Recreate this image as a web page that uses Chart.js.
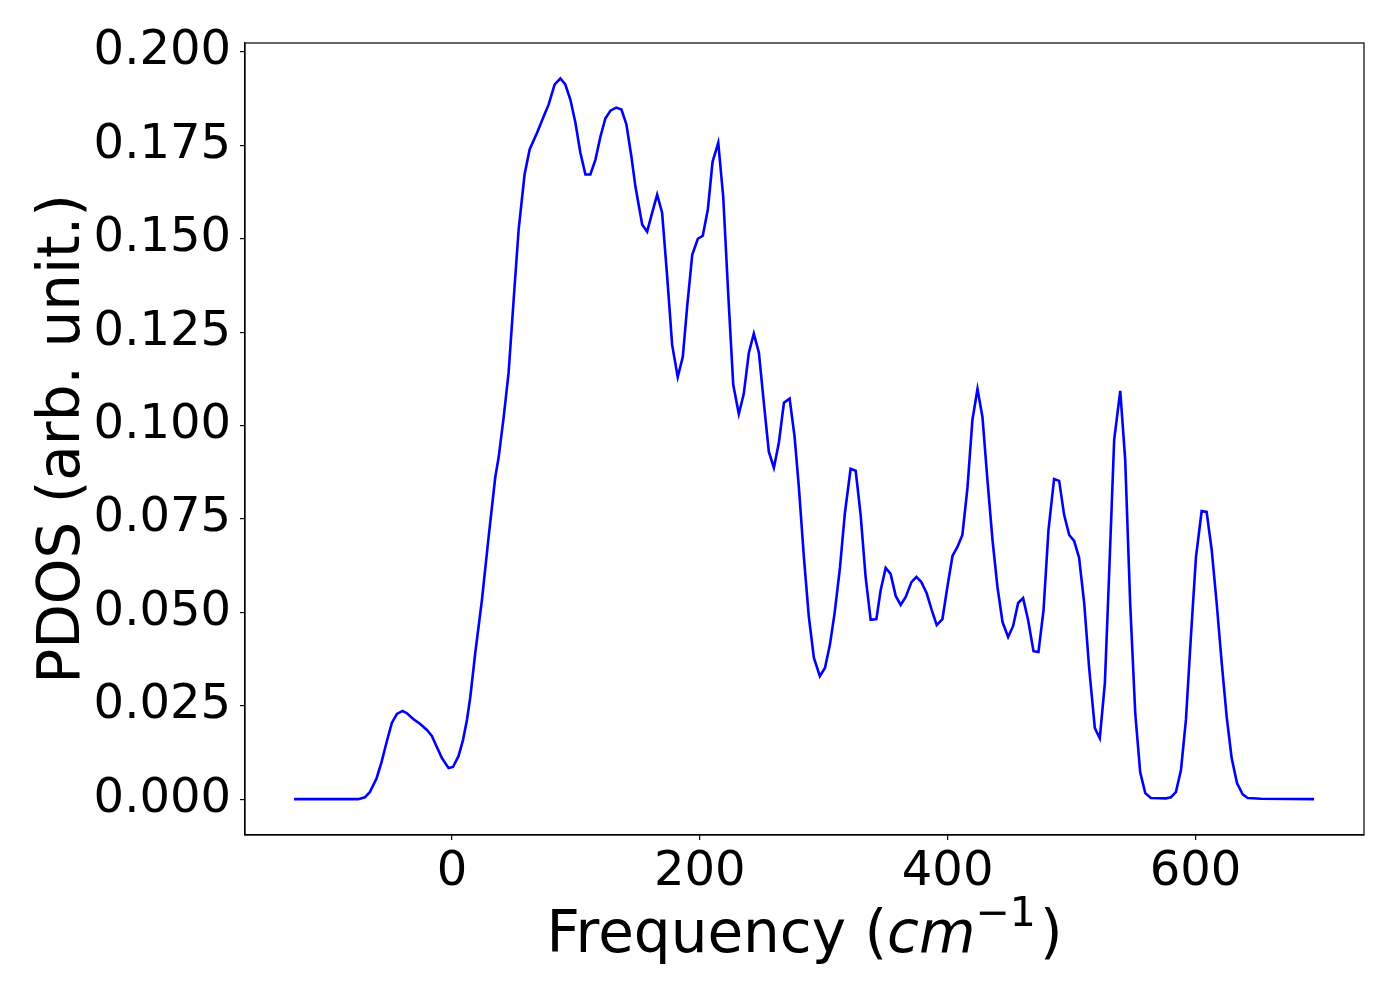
<!DOCTYPE html>
<html>
<head>
<meta charset="utf-8">
<script src="https://cdn.jsdelivr.net/npm/chart.js@4"></script>
<style>
  html, body { margin: 0; padding: 0; background: #fff; }
  canvas { display: block; }
</style>
</head>
<body>
<canvas id="myChart" width="1400" height="1000"></canvas>
<script>
// Frekuensi (cm^-1) dan nilai PDOS
const freq = [-127.4, -75.7, -70.2, -66.2, -60.8, -56.8, -52.7, -48.5, -44.4, -39.9, -36.3, -31.0, -25.6, -20.2, -16.2,
    -12.1, -8.1, -2.7, 0.8, 5.3, 8.9, 12.1, 14.8, 18.8, 24.2, 29.6, 35.0, 37.6, 41.7, 45.7, 49.8, 53.8, 58.6, 62.7,
    68.7, 74.0, 78.0, 82.9, 87.5, 91.5, 95.6, 99.6, 103.6, 107.7, 111.7, 115.8, 119.8, 123.8, 127.9, 132.5, 136.8,
    140.8, 144.8, 148.1, 153.5, 157.5, 161.6, 165.6, 169.6, 173.7, 177.7, 182.2, 186.3, 189.8, 193.9, 198.4, 202.4,
    206.5, 210.3, 214.9, 218.9, 222.9, 227.0, 231.5, 235.5, 239.6, 243.6, 247.7, 251.7, 255.7, 259.8, 263.8, 267.9,
    272.5, 276.5, 280.0, 284.0, 288.0, 292.1, 296.9, 301.0, 305.0, 308.8, 313.1, 317.1, 321.7, 325.8, 329.8, 333.8,
    337.9, 342.5, 346.0, 350.0, 354.0, 358.1, 362.1, 366.2, 370.8, 374.8, 378.8, 383.1, 387.2, 391.2, 395.8, 399.8,
    403.9, 407.9, 411.9, 416.0, 420.0, 424.1, 428.1, 432.1, 436.2, 440.2, 444.3, 448.8, 452.8, 456.9, 460.9, 464.9,
    469.3, 473.3, 477.4, 481.4, 485.9, 490.0, 494.0, 498.1, 502.1, 506.1, 510.2, 514.2, 518.8, 522.8, 526.9, 530.4,
    534.4, 539.3, 543.3, 547.3, 551.4, 555.4, 559.5, 564.0, 576.2, 580.2, 584.2, 588.3, 592.3, 596.3, 600.4, 605.0,
    609.0, 613.1, 617.1, 621.2, 625.2, 629.2, 633.5, 638.1, 642.2, 652.9, 695.7];
const pdos = [0, 0, 0.0005, 0.0019, 0.0056, 0.0099, 0.0153, 0.0204, 0.0228, 0.0236, 0.0230, 0.0214, 0.0201, 0.0185, 0.0169,
    0.0139, 0.0110, 0.0083, 0.0086, 0.0115, 0.0158, 0.0212, 0.0273, 0.0391, 0.0533, 0.0702, 0.0863, 0.0913, 0.1021, 0.1141, 0.1337, 0.1524, 0.1672, 0.1739,
    0.1784, 0.1827, 0.1859, 0.1913, 0.1929, 0.1913, 0.1872, 0.1811, 0.1731, 0.1672, 0.1672, 0.1712, 0.1773, 0.1822, 0.1843, 0.1851, 0.1846,
    0.1806, 0.1720, 0.1639, 0.1538, 0.1519, 0.1570, 0.1618, 0.1570, 0.1398, 0.1216, 0.1130, 0.1184, 0.1318, 0.1457, 0.1500, 0.1508,
    0.1578, 0.1706, 0.1757, 0.1613, 0.1355, 0.1109, 0.1031, 0.1085, 0.1195, 0.1246, 0.1195, 0.1061, 0.0930, 0.0887, 0.0954, 0.1061,
    0.1072, 0.0970, 0.0833, 0.0648, 0.0488, 0.0378, 0.0329, 0.0351, 0.0413, 0.0498, 0.0619, 0.0766, 0.0884, 0.0879, 0.0761, 0.0595,
    0.0480, 0.0482, 0.0560, 0.0619, 0.0603, 0.0544, 0.0520, 0.0541, 0.0581, 0.0595, 0.0581, 0.0551, 0.0506, 0.0466, 0.0482, 0.0568,
    0.0651, 0.0675, 0.0707, 0.0833, 0.1015, 0.1098, 0.1023, 0.0855, 0.0694, 0.0568, 0.0474, 0.0434, 0.0463, 0.0525, 0.0538, 0.0480,
    0.0396, 0.0394, 0.0506, 0.0721, 0.0857, 0.0852, 0.0761, 0.0707, 0.0691, 0.0646, 0.0525, 0.0351, 0.0190, 0.0163, 0.0311, 0.0608,
    0.0962, 0.1093, 0.0908, 0.0525, 0.0230, 0.0072, 0.0016, 0.0003, 0.0002, 0.0005, 0.0019, 0.0078, 0.0212, 0.0434, 0.0648, 0.0771,
    0.0769, 0.0667, 0.0525, 0.0364, 0.0220, 0.0110, 0.0043, 0.0013, 0.0003, 0.0001, 0];

const xTicks = [0, 200, 400, 600];
const yTicks = [0, 0.025, 0.05, 0.075, 0.1, 0.125, 0.15, 0.175, 0.2];

const FONT = 'DejaVu Sans';

// Bingkai kotak + judul sumbu (dengan superskrip)
const framePlugin = {
    id: 'frame',
    afterDraw(chart) {
        const c = chart.ctx;
        const a = chart.chartArea;
        c.save();
        c.strokeStyle = '#000';
        c.lineWidth = 1.2;
        c.strokeRect(a.left, a.top, a.right - a.left, a.bottom - a.top);

        c.fillStyle = '#000';
        c.textBaseline = 'alphabetic';
        // judul sumbu x
        const parts = [
            { t: 'Frequency (', f: '58px ' + FONT, dy: 0 },
            { t: 'cm', f: 'oblique 58px ' + FONT, dy: 0 },
            { t: '\u22121', f: '41px ' + FONT, dy: -26 },
            { t: ')', f: '58px ' + FONT, dy: 0 }
        ];
        let total = 0;
        parts.forEach(p => { c.font = p.f; p.w = c.measureText(p.t).width; total += p.w; });
        total += 4;
        let x = (a.left + a.right) / 2 - total / 2;
        parts.forEach((p, i) => {
            c.font = p.f;
            c.textAlign = 'left';
            c.fillText(p.t, x, 952 + p.dy);
            x += p.w + (i === 2 ? 4 : 0);
        });

        // judul sumbu y
        c.translate(79, (a.top + a.bottom) / 2);
        c.rotate(-Math.PI / 2);
        c.font = '58px ' + FONT;
        c.textAlign = 'center';
        c.fillText('PDOS (arb. unit.)', 0, 0);
        c.restore();
    }
};

const ctx = document.getElementById('myChart').getContext('2d');
const myChart = new Chart(ctx, {
    type: 'line',
    data: {
        datasets: [{
            label: 'PDOS',
            data: freq.map((f, i) => ({ x: f, y: pdos[i] })),
            borderColor: '#0000ff',
            borderWidth: 2.6,
            pointRadius: 0,
            tension: 0,
            fill: false
        }]
    },
    options: {
        responsive: false,
        animation: false,
        layout: { padding: { left: 0, right: 36, top: 43, bottom: 0 } },
        plugins: {
            legend: { display: false },
            tooltip: { enabled: false }
        },
        scales: {
            x: {
                type: 'linear',
                min: -167,
                max: 736,
                afterBuildTicks: s => { s.ticks = xTicks.map(v => ({ value: v })); },
                afterFit: s => { s.height = 165; },
                grid: { drawOnChartArea: false, drawTicks: true, tickLength: 5, color: '#000', lineWidth: 1.2 },
                border: { display: true, color: '#000', width: 1.2 },
                ticks: { color: '#000', font: { family: FONT, size: 48 }, padding: 4, maxRotation: 0 }
            },
            y: {
                type: 'linear',
                min: -0.0096,
                max: 0.2024,
                afterBuildTicks: s => { s.ticks = yTicks.map(v => ({ value: v })); },
                afterFit: s => { s.width = 245; },
                grid: { drawOnChartArea: false, drawTicks: true, tickLength: 5, color: '#000', lineWidth: 1.2 },
                border: { display: true, color: '#000', width: 1.2 },
                ticks: { color: '#000', font: { family: FONT, size: 48 }, padding: 9, callback: v => v.toFixed(3) }
            }
        }
    },
    plugins: [framePlugin]
});
</script>
</body>
</html>
